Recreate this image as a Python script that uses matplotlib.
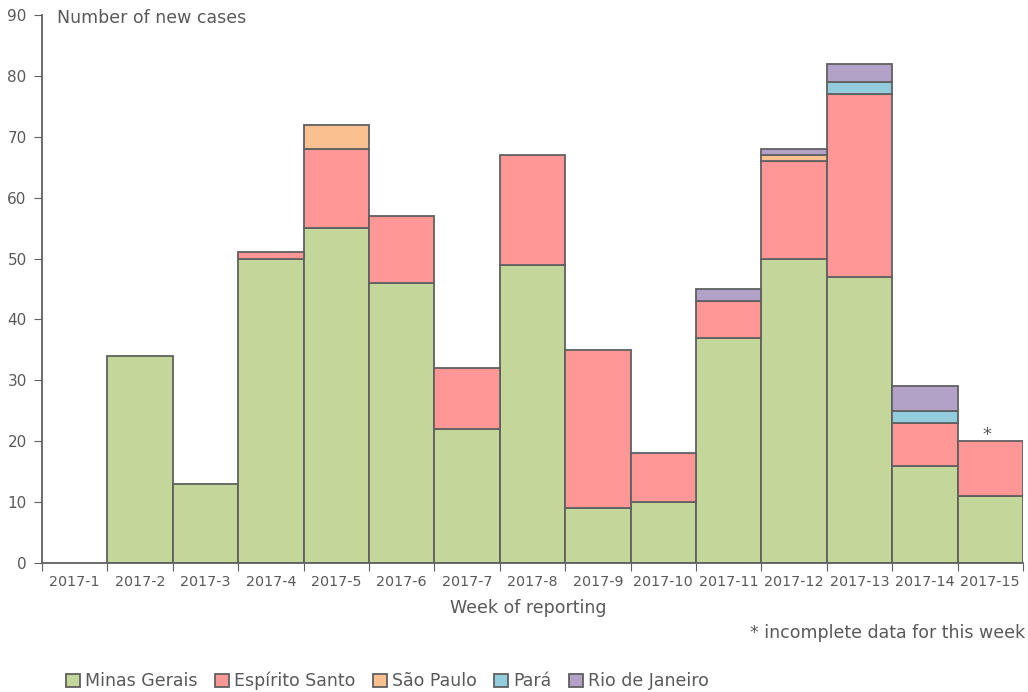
import matplotlib
matplotlib.use("Agg")
import matplotlib.pyplot as plt
import numpy as np
from matplotlib.patches import Patch

weeks = ["2017-1", "2017-2", "2017-3", "2017-4", "2017-5", "2017-6", "2017-7", "2017-8",
         "2017-9", "2017-10", "2017-11", "2017-12", "2017-13", "2017-14", "2017-15"]
minas_gerais = [0, 34, 13, 50, 55, 46, 22, 49, 9, 10, 37, 50, 47, 16, 11]
espirito_santo = [0, 0, 0, 1, 13, 11, 10, 18, 26, 8, 6, 16, 30, 7, 9]
sao_paulo = [0, 0, 0, 0, 4, 0, 0, 0, 0, 0, 0, 1, 0, 0, 0]
para = [0, 0, 0, 0, 0, 0, 0, 0, 0, 0, 0, 0, 2, 2, 0]
rio_de_janeiro = [0, 0, 0, 0, 0, 0, 0, 0, 0, 0, 2, 1, 3, 4, 0]

series = [
    ("Minas Gerais", minas_gerais, "#C4D79B"),
    ("Espírito Santo", espirito_santo, "#FF9797"),
    ("São Paulo", sao_paulo, "#FAC090"),
    ("Pará", para, "#93CDDD"),
    ("Rio de Janeiro", rio_de_janeiro, "#B3A2C7"),
]

txt = "#595959"
edge = "#606060"
plt.rcParams['font.family'] = ['DejaVu Sans']

fig = plt.figure(figsize=(10.28, 6.92), dpi=100)
ax = fig.add_axes([42/1028, 1-563/692, (1023-42)/1028, (563-15)/692])

x = np.arange(len(weeks))
bottom = np.zeros(len(weeks))
for name, vals, col in series:
    v = np.array(vals, dtype=float)
    mask = v > 0
    ax.bar(x[mask], v[mask], width=1.0, bottom=bottom[mask], color=col,
           edgecolor=edge, linewidth=1.3, align="center", zorder=2)
    bottom += v

ax.set_xlim(-0.5, len(weeks) - 0.5)
ax.set_ylim(0, 90)
ax.set_yticks(range(0, 91, 10))
ax.tick_params(axis='y', direction='out', length=6, color=edge, labelcolor=txt, labelsize=11, pad=5)
ax.set_xticks(np.arange(-0.5, len(weeks), 1.0))
ax.set_xticklabels([])
ax.set_xticks(x, minor=True)
ax.set_xticklabels(weeks, minor=True)
ax.tick_params(axis='x', which='major', direction='out', length=6, color=edge)
ax.tick_params(axis='x', which='minor', length=0, labelcolor=txt, labelsize=10.3, pad=9)
for s in ['top', 'right']:
    ax.spines[s].set_visible(False)
for s in ['left', 'bottom']:
    ax.spines[s].set_color(edge)
    ax.spines[s].set_linewidth(1.3)

fig.text(57/1028, 1-18/692, "Number of new cases",
         ha='left', va='center', fontsize=12.5, color=txt)
fig.text(528/1028, 1-608/692, "Week of reporting", ha='center', va='center', fontsize=12.5, color=txt)
fig.text(1025/1028, 1-633/692, "* incomplete data for this week", ha='right', va='center', fontsize=12.5, color=txt)
ax.text(x[-1] - 0.05, bottom[-1] - 0.5, "*", ha='center', va='bottom', fontsize=13, color=txt)

handles = [Patch(facecolor=c, edgecolor=edge, linewidth=1.3, label=n) for n, _, c in series]
fig.legend(handles=handles, loc='center left', bbox_to_anchor=(66/1028, 1-681/692), ncol=5,
           frameon=False, fontsize=12.5, labelcolor=txt, handlelength=0.8, handleheight=0.8,
           handletextpad=0.3, columnspacing=1.0, borderaxespad=0, borderpad=0)

fig.savefig("out.png", dpi=100)
